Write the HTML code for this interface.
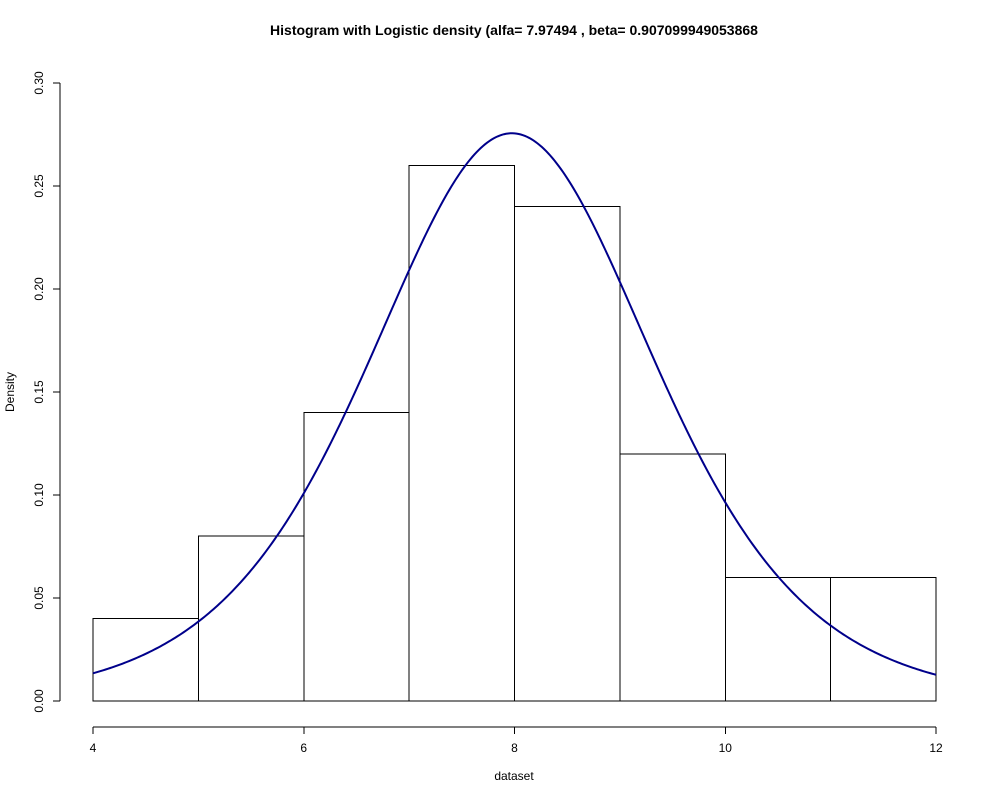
<!DOCTYPE html>
<html><head><meta charset="utf-8"><style>
body{margin:0;background:#fff;}
svg{display:block;font-family:"Liberation Sans",sans-serif;}
rect,line{shape-rendering:crispEdges;}
</style></head><body>
<svg id="chart" width="1000" height="800">
<text x="514" y="35" text-anchor="middle" font-size="14" font-weight="bold">Histogram with Logistic density (alfa= 7.97494 , beta= 0.907099949053868</text>
<text x="514" y="780" text-anchor="middle" font-size="12">dataset</text>
<text transform="translate(14,392) rotate(-90)" text-anchor="middle" font-size="12">Density</text>
<g id="bars"></g><g id="xaxis"></g><g id="yaxis"></g>
<path id="curve" fill="none" stroke="#00008B" stroke-width="2"></path>
</svg>
<script>
const binStarts = [4,5,6,7,8,9,10,11];
const binEnds = [5,6,7,8,9,10,11,12];
const densities = [0.04,0.08,0.14,0.26,0.24,0.12,0.06,0.06];
const xTicks = [4,6,8,10,12];
const yTicks = [0,0.05,0.10,0.15,0.20,0.25,0.30];
const yTickLabels = ["0.00","0.05","0.10","0.15","0.20","0.25","0.30"];
const alfa = 7.97494;
const beta = 0.907099949053868;

const NS="http://www.w3.org/2000/svg";
const xs = v => 93 + (v-4)*(936-93)/8;
const ys = v => 701 - v*(701-83)/0.30;
function mk(tag, attrs, parent){const e=document.createElementNS(NS,tag);for(const k in attrs)e.setAttribute(k,attrs[k]);parent.appendChild(e);return e;}

const bars=document.getElementById('bars');
densities.forEach((d,i)=>{
  const r=mk('rect',{x:xs(binStarts[i]),y:ys(d),width:xs(binEnds[i])-xs(binStarts[i]),height:ys(0)-ys(d),fill:'none',stroke:'#000','stroke-width':1},bars);
  
  
});

const xa=document.getElementById('xaxis');
const xl=mk('line',{x1:xs(xTicks[0]),x2:xs(xTicks[xTicks.length-1]),y1:727,y2:727,stroke:'#000'},xa);


xTicks.forEach(t=>{
  const l=mk('line',{x1:xs(t),x2:xs(t),y1:727,y2:734,stroke:'#000'},xa);
  
  
  const tx=mk('text',{x:xs(t),y:752,'text-anchor':'middle','font-size':12},xa);
  tx.textContent=t;
  
  
});

const ya=document.getElementById('yaxis');
const yl=mk('line',{x1:60,x2:60,y1:ys(yTicks[0]),y2:ys(yTicks[yTicks.length-1]),stroke:'#000'},ya);


yTicks.forEach((t,i)=>{
  const l=mk('line',{x1:53,x2:60,y1:ys(t),y2:ys(t),stroke:'#000'},ya);
  
  
  const tx=mk('text',{transform:`translate(43,${ys(t)}) rotate(-90)`,'text-anchor':'middle','font-size':12},ya);
  tx.textContent=yTickLabels[i];
  
  
});

let d='';
for(let k=0;k<=400;k++){
  const x=4+8*k/400;
  const z=Math.exp(-(x-alfa)/beta);
  const f=z/(beta*(1+z)*(1+z));
  d+=(k?'L':'M')+xs(x).toFixed(2)+','+ys(f).toFixed(2);
}
document.getElementById('curve').setAttribute('d',d);
</script>
</body></html>
